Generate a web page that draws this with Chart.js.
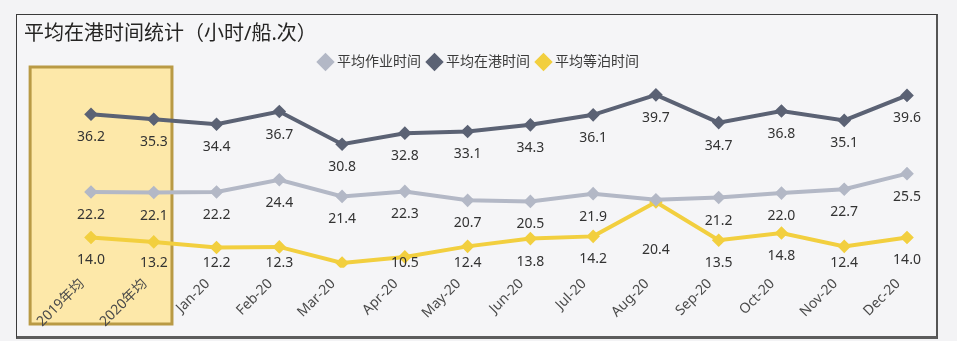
<!DOCTYPE html>
<html>
<head>
<meta charset="utf-8">
<script src="https://cdn.jsdelivr.net/npm/chart.js@4/dist/chart.umd.min.js"></script>
<style>
  html, body { margin: 0; padding: 0; background: #f3f3f5; }
  body { width: 957px; height: 341px; position: relative; overflow: hidden; }
  .box {
    position: absolute; left: 16px; top: 14px; width: 922px; height: 325px;
    box-sizing: border-box; background: #f5f5f7;
    border: 1px solid #3a3a3a; border-right: 2px solid #555; border-bottom: 3px solid #5c5c5c;
  }
  .box canvas { display: block; }
</style>
</head>
<body>
<div class="box"><canvas id="chart" width="919" height="321"></canvas></div>
<script>
(function () {
  'use strict';

  var categories = ['2019年均', '2020年均', 'Jan-20', 'Feb-20', 'Mar-20', 'Apr-20', 'May-20',
    'Jun-20', 'Jul-20', 'Aug-20', 'Sep-20', 'Oct-20', 'Nov-20', 'Dec-20'];
  var workTime = [22.2, 22.1, 22.2, 24.4, 21.4, 22.3, 20.7, 20.5, 21.9, 20.8, 21.2, 22.0, 22.7, 25.5];
  var portTime = [36.2, 35.3, 34.4, 36.7, 30.8, 32.8, 33.1, 34.3, 36.1, 39.7, 34.7, 36.8, 35.1, 39.6];
  var waitTime = [14.0, 13.2, 12.2, 12.3, 9.4, 10.5, 12.4, 13.8, 14.2, 20.4, 13.5, 14.8, 12.4, 14.0];

  var colors = {
    work: '#b3b8c6',
    port: '#5b6274',
    wait: '#f2cf3f',
    text: '#333333',
    boxFill: '#fde8a9',
    boxEdge: '#b99a45',
  };

  var font = '"Segoe UI", "Noto Sans", "Noto Sans CJK SC", sans-serif';

  // labels Power BI hid or moved because they overlapped
  var labelTweaks = {
    0: { 9: { hide: true } },
    2: { 4: { hide: true }, 9: { dy: 25, free: true } },
  };

  var highlightBox = {
    id: 'highlightBox',
    beforeDraw: function (chart) {
      var x = chart.scales.x;
      var step = x.getPixelForValue(1) - x.getPixelForValue(0);
      var left = x.getPixelForValue(0) - step * 0.97;
      var right = x.getPixelForValue(1) + step * 0.29;
      var top = 52;
      var bottom = 309;
      var ctx = chart.ctx;
      ctx.save();
      ctx.fillStyle = colors.boxFill;
      ctx.fillRect(left, top, right - left, bottom - top);
      ctx.strokeStyle = colors.boxEdge;
      ctx.lineWidth = 3;
      ctx.strokeRect(left, top, right - left, bottom - top);
      ctx.restore();
    },
  };

  var pointLabels = {
    id: 'pointLabels',
    afterDatasetsDraw: function (chart) {
      var ctx = chart.ctx;
      var maxY = chart.chartArea.bottom - 5;
      ctx.save();
      ctx.font = '14px ' + font;
      ctx.fillStyle = colors.text;
      ctx.textAlign = 'center';
      ctx.textBaseline = 'middle';
      chart.data.datasets.forEach(function (ds, di) {
        var meta = chart.getDatasetMeta(di);
        meta.data.forEach(function (pt, i) {
          var tw = (labelTweaks[di] && labelTweaks[di][i]) || {};
          if (tw.hide) return;
          var y = pt.y + 23 + (tw.dy || 0);
          if (!tw.free) y = Math.min(y, maxY);
          ctx.fillText(ds.data[i].toFixed(1), pt.x, y);
        });
      });
      ctx.restore();
    },
  };

  function series(label, data, color) {
    return {
      label: label,
      data: data,
      borderColor: color,
      backgroundColor: color,
      borderWidth: 4,
      pointStyle: 'rectRot',
      pointRadius: 4,
      pointHoverRadius: 4,
      tension: 0,
    };
  }

  new Chart(document.getElementById('chart'), {
    type: 'line',
    data: {
      labels: categories,
      datasets: [
        series('平均作业时间', workTime, colors.work),
        series('平均在港时间', portTime, colors.port),
        series('平均等泊时间', waitTime, colors.wait),
      ],
    },
    plugins: [highlightBox, pointLabels],
    options: {
      responsive: false,
      animation: false,
      layout: { padding: { left: 7, right: 0, top: 0, bottom: 6 } },
      plugins: {
        title: {
          display: true,
          text: '平均在港时间统计（小时/船.次）',
          align: 'start',
          color: '#252423',
          font: { family: font, size: 20, weight: 'normal' },
          padding: { top: 7, bottom: 0 },
        },
        legend: {
          labels: {
            usePointStyle: true,
            pointStyle: 'rectRot',
            boxWidth: 9,
            boxHeight: 9,
            padding: 9,
            color: '#3a3a3a',
            font: { family: font, size: 14 },
          },
        },
        tooltip: { enabled: false },
      },
      scales: {
        x: {
          offset: false,
          grid: { display: false },
          border: { display: false },
          ticks: {
            color: '#4a4a4a',
            font: { family: font, size: 14 },
            minRotation: 45,
            maxRotation: 45,
            autoSkip: false,
            padding: 0,
            labelOffset: -9,
          },
          afterFit: function (s) {
            s.paddingLeft = 74;
            s.paddingRight = 29;
          },
        },
        y: {
          display: false,
          min: 8.56,
          max: 42.56,
        },
      },
    },
  });
})();
</script>
</body>
</html>
